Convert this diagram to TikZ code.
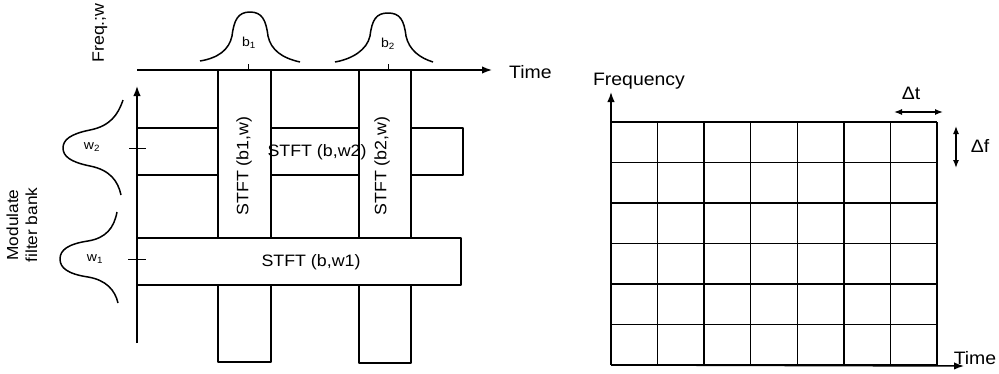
\documentclass[tikz,border=0pt]{standalone}
\usepackage{fontspec}
\setmainfont[FakeStretch=1.08]{Liberation Sans}
\usetikzlibrary{arrows.meta}
\begin{document}
\begin{tikzpicture}[x=1pt,y=-1pt,
  ln/.style={line width=1.5pt, line join=round},
  thin tick/.style={line width=1pt},
  axis/.style={line width=1.5pt,-{Latex[length=10pt,width=7.5pt]}},
  dbl/.style={line width=1.3pt,{Latex[length=8pt,width=6pt]}-{Latex[length=8pt,width=6pt]}},
  lbl/.style={font=\fontsize{16.5}{18}\selectfont, inner sep=0pt},
  big/.style={font=\fontsize{18}{20}\selectfont, inner sep=0pt},
  sub/.style={font=\fontsize{13}{14}\selectfont, inner sep=0pt},
]
\useasboundingbox (0,0) rectangle (999,373);

% ---------- left: modulated filter bank ----------
% axes
\coordinate (t0) at (137,70);
\coordinate (t1) at (492,70);
\coordinate (f0) at (137,343);
\coordinate (f1) at (137,86);
\draw[axis] (t0) -- (t1);
\draw[axis] (f0) -- (f1);
\node[big, anchor=west] (timeL) at (509,72) {Time};
\node[lbl, rotate=90] (freqw) at (100,33) {Freq.;w};
\node[rotate=90, align=center, inner sep=0pt, font=\fontsize{16}{19}\selectfont] (bank) at (22,225) {Modulate\\filter bank};

% time windows b1, b2
\draw[ln] (200,61) .. controls (218,58) and (229,50) .. (232,36)
  .. controls (234,20) and (238,12) .. (250,12)
  .. controls (262,12) and (266,20) .. (268,36)
  .. controls (271,50) and (282,58) .. (300,62);
\draw[ln] (335,62) .. controls (352,59) and (367,50) .. (370,36)
  .. controls (372,20) and (376,13) .. (388,13)
  .. controls (400,13) and (404,20) .. (406,36)
  .. controls (409,50) and (420,58) .. (433,62);
\node[sub] (b1) at (249,43) {b\textsubscript{1}};
\node[sub] (b2) at (388,44) {b\textsubscript{2}};
\draw[thin tick] (248,64) -- (248,70);
\draw[thin tick] (388,64) -- (388,70);

% frequency windows w2, w1
\draw[ln] (123,100) .. controls (118,115) and (110,126) .. (90,130)
  .. controls (70,134) and (63,140) .. (63,148)
  .. controls (63,156) and (70,162) .. (90,166)
  .. controls (110,170) and (118,181) .. (121,195);
\draw[ln] (117,212) .. controls (114,228) and (106,238) .. (88,241)
  .. controls (68,244) and (60,250) .. (60,259)
  .. controls (60,268) and (68,274) .. (88,277)
  .. controls (106,280) and (115,290) .. (118,303);
\node[sub] (w2) at (92,147) {w\textsubscript{2}};
\node[sub] (w1) at (95,259) {w\textsubscript{1}};
\draw[thin tick] (129,148) -- (146,148);
\draw[thin tick] (128,259) -- (146,259);

% vertical strips (b1, b2), cut by the w1 strip
\draw[ln] (218,70) -- (218,238);
\draw[ln] (271,70) -- (271,238);
\draw[ln] (218,285) -- (218,362) -- (271,362) -- (271,285);
\draw[ln] (359,70) -- (359,238);
\draw[ln] (411,70) -- (411,238);
\draw[ln] (359,285) -- (359,363) -- (411,363) -- (411,285);

% horizontal strip w2, cut by the vertical strips
\draw[ln] (137,128) -- (218,128);
\draw[ln] (137,175) -- (218,175);
\draw[ln] (271,128) -- (359,128);
\draw[ln] (271,175) -- (359,175);
\draw[ln] (411,128) -- (463,128) -- (463,175) -- (411,175);

% horizontal strip w1
\draw[ln] (137,238) -- (461,238) -- (461,285) -- (137,285);

% strip labels
\node[lbl, rotate=90] (s1) at (244,166) {STFT (b1,w)};
\node[lbl, rotate=90] (s2) at (382,166) {STFT (b2,w)};
\node[lbl] (sw2) at (317,152) {STFT (b,w2)};
\node[lbl] (sw1) at (311,262) {STFT (b,w1)};

% ---------- right: STFT tiling ----------
\foreach \i in {0,...,7}
  \draw[ln] ({611+46.57*\i},122) -- ({611+46.57*\i},365);
\foreach \j in {0,...,6}
  \draw[ln] (611,{122+40.5*\j}) -- (937,{122+40.5*\j});
\coordinate (o) at (611,365);
\coordinate (fy) at (611,92);
\coordinate (tx) at (964,366);
\draw[axis] (o) -- (fy);
\draw[axis] (o) -- (tx);
\node[big] (freqR) at (639,81) {Frequency};
\node[big] (timeR) at (975,358) {Time};

% resolution markers
\coordinate (dta) at (894,112);
\coordinate (dtb) at (943,112);
\draw[dbl] (dta) -- (dtb);
\node[big] (dt) at (911,93) {Δt};
\coordinate (dfa) at (956,126);
\coordinate (dfb) at (956,168);
\draw[dbl] (dfa) -- (dfb);
\node[big] (df) at (980,146) {Δf};
\end{tikzpicture}
\end{document}
